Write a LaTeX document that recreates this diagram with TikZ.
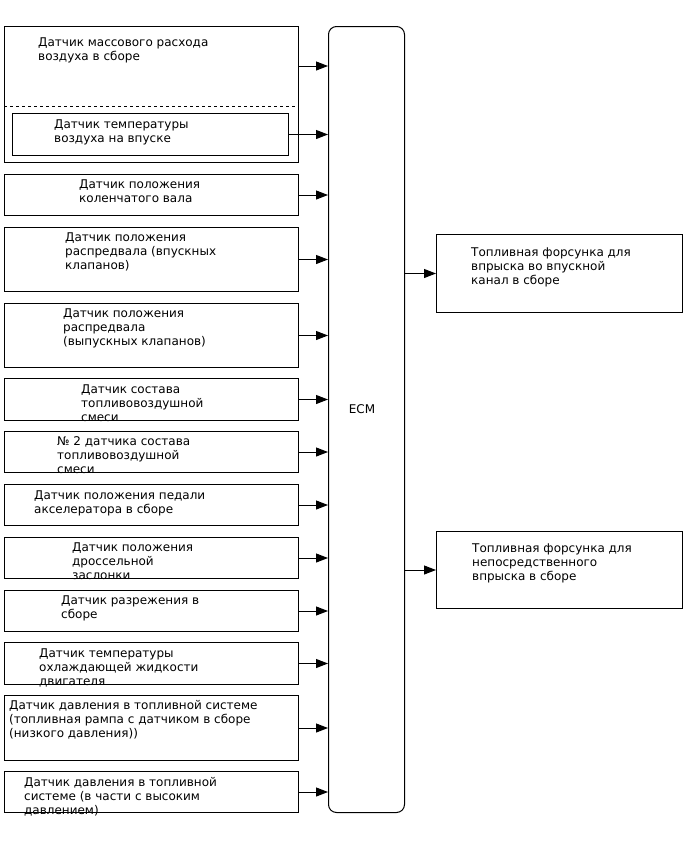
\documentclass[tikz,border=0pt]{standalone}
\usepackage{fontspec}
\setmainfont{DejaVu Sans}
\usetikzlibrary{arrows.meta}
\newcommand{\mlines}[1]{\begin{tabular}[t]{@{}l@{}}#1\end{tabular}}
\tikzset{
  box/.style={draw=black, line width=1pt, rectangle, inner sep=0pt, anchor=north west},
  lbl/.style={anchor=base west, inner sep=0pt, font=\fontsize{12}{14}\selectfont},
  arr/.style={line width=1pt, -{Triangle[length=12pt,width=9pt]}},
}
\newcommand{\bx}[5]{% name, x1, y1, x2, y2
  \node[box, minimum width={(#4-#2)*1pt}, minimum height={(#5-#3)*1pt}] (#1) at (#2,#3) {};}
\begin{document}
\begin{tikzpicture}[x=1pt,y=-1pt]
\useasboundingbox (0,0) rectangle (688,852);
% ECM
\node[draw=black, line width=1pt, rounded corners=8pt, inner sep=0pt, anchor=north west,
  minimum width=76pt, minimum height=786pt] (ecm) at (328,26) {};
\node[lbl, anchor=center] (ecmt) at (362,409) {ECM};
% MAF outer
\bx{maf}{4}{26}{298}{162}
\draw[dashed, line width=1pt] (maf.west |- 0,106) -- (maf.east |- 0,106);
\node[lbl] (maft) at (38,46.5) {\mlines{Датчик массового расхода\\воздуха в сборе}};
\coordinate (mafa) at (298,66);
\draw[arr] (mafa) -- (mafa -| ecm.west);
% inner IAT
\bx{iat}{12}{113}{288}{155}
\node[lbl] (iatt) at (54,128) {\mlines{Датчик температуры\\воздуха на впуске}};
\draw[arr] (iat.east) -- (iat.east -| ecm.west);
% others
\bx{ckp}{4}{174}{298}{215}
\node[lbl] (ckpt) at (79,188.5) {\mlines{Датчик положения\\коленчатого вала}};
\draw[arr] (ckp.east) -- (ckp.east -| ecm.west);
\bx{cmpi}{4}{227}{298}{291}
\node[lbl] (cmpit) at (65,241.5) {\mlines{Датчик положения\\распредвала (впускных\\клапанов)}};
\draw[arr] (cmpi.east) -- (cmpi.east -| ecm.west);
\bx{cmpe}{4}{303}{298}{367}
\node[lbl] (cmpet) at (63,317.5) {\mlines{Датчик положения\\распредвала\\(выпускных клапанов)}};
\draw[arr] (cmpe.east) -- (cmpe.east -| ecm.west);
\bx{af}{4}{378}{298}{420}
\node[lbl] (aft) at (81,393.5) {\mlines{Датчик состава\\топливовоздушной\\смеси}};
\draw[arr] (af.east) -- (af.east -| ecm.west);
\bx{aftwo}{4}{431}{298}{472}
\node[lbl] (aftwot) at (57,445.5) {\mlines{№ 2 датчика состава\\топливовоздушной\\смеси}};
\draw[arr] (aftwo.east) -- (aftwo.east -| ecm.west);
\bx{app}{4}{484}{298}{525}
\node[lbl] (appt) at (34,499.5) {\mlines{Датчик положения педали\\акселератора в сборе}};
\draw[arr] (app.east) -- (app.east -| ecm.west);
\bx{tps}{4}{537}{298}{578}
\node[lbl] (tpst) at (72,551.5) {\mlines{Датчик положения\\дроссельной\\заслонки}};
\draw[arr] (tps.east) -- (tps.east -| ecm.west);
\bx{map}{4}{590}{298}{631}
\node[lbl] (mapt) at (61,604.5) {\mlines{Датчик разрежения в\\сборе}};
\draw[arr] (map.east) -- (map.east -| ecm.west);
\bx{ect}{4}{642}{298}{684}
\node[lbl] (ectt) at (39,657.5) {\mlines{Датчик температуры\\охлаждающей жидкости\\двигателя}};
\draw[arr] (ect.east) -- (ect.east -| ecm.west);
\bx{fpl}{4}{695}{298}{760}
\node[lbl] (fplt) at (9,709.5) {\mlines{Датчик давления в топливной системе\\(топливная рампа с датчиком в сборе\\(низкого давления))}};
\draw[arr] (fpl.east) -- (fpl.east -| ecm.west);
\bx{fph}{4}{771}{298}{812}
\node[lbl] (fpht) at (24,786.5) {\mlines{Датчик давления в топливной\\системе (в части с высоким\\давлением)}};
\draw[arr] (fph.east) -- (fph.east -| ecm.west);
% outputs
\bx{inja}{436}{234}{682}{312}
\node[lbl] (injat) at (471,256.5) {\mlines{Топливная форсунка для\\впрыска во впускной\\канал в сборе}};
\draw[arr] (inja.west -| ecm.east) -- (inja.west);
\bx{injb}{436}{531}{682}{608}
\node[lbl] (injbt) at (472,552.5) {\mlines{Топливная форсунка для\\непосредственного\\впрыска в сборе}};
\draw[arr] (injb.west -| ecm.east) -- (injb.west);
\end{tikzpicture}
\end{document}
